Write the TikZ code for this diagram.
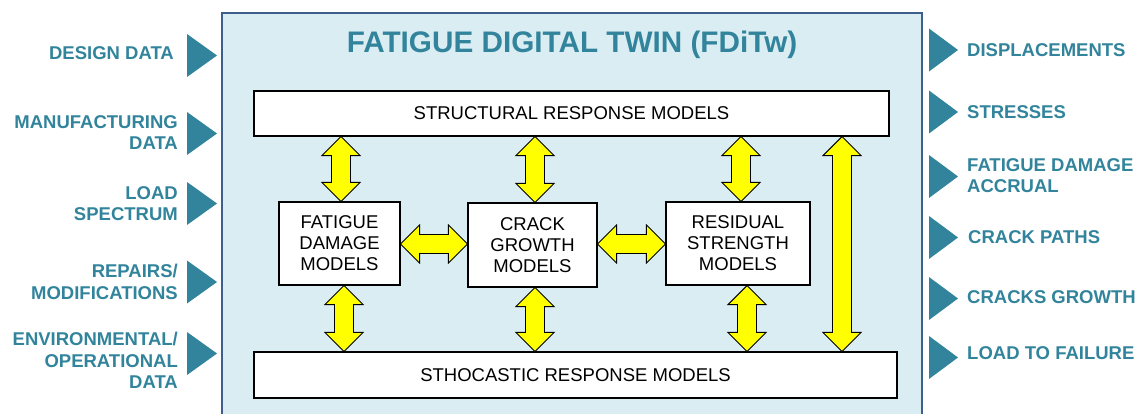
\documentclass[tikz,border=0pt]{standalone}
\usepackage{fontspec}
\setmainfont{Liberation Sans}
\usetikzlibrary{calc}

\definecolor{fdteal}{HTML}{31849B}
\definecolor{fdpanel}{HTML}{DAEDF3}
\definecolor{fdborder}{HTML}{3E5E8E}
\definecolor{fdyellow}{HTML}{FFFF00}

% yellow block arrow with a head at both ends, from #1 to #2
\newcommand{\fdarrow}[2]{%
  \draw[blockarrow] let \p1=#1, \p2=#2,
    \n1={atan2(\y2-\y1,\x2-\x1)},
    \n2={veclen(\x2-\x1,\y2-\y1)},
    \n3={\n2-19pt} in
    [shift={(\p1)}, rotate=\n1]
    (0pt,0pt) -- (19pt,19pt) -- (19pt,9.5pt) -- (\n3,9.5pt) -- (\n3,19pt)
    -- (\n2,0pt) -- (\n3,-19pt) -- (\n3,-9.5pt) -- (19pt,-9.5pt)
    -- (19pt,-19pt) -- cycle;}

\tikzset{
  panel/.style={draw=fdborder, line width=2pt, fill=fdpanel},
  title/.style={font=\bfseries\fontsize{29.7}{32}\selectfont, text=fdteal, inner sep=0pt},
  model/.style={draw=black, line width=1.2pt, fill=white, align=center,
    font=\fontsize{18.5}{21}\selectfont, inner sep=0pt},
  io/.style={font=\bfseries\fontsize{18.5}{21.5}\selectfont, text=fdteal, inner sep=0pt},
  tri/.style={fill=fdteal},
  blockarrow/.style={draw=black, line width=0.9pt, fill=fdyellow, line join=miter},
}

\begin{document}
\begin{tikzpicture}[x=1pt,y=-1pt]
\useasboundingbox (0,0) rectangle (1139,414);
\clip (0,0) rectangle (1139,414);

% central panel
\filldraw[panel] (222,13) rectangle (922,440);
\node[title] (title) at (572,44.5) {FATIGUE DIGITAL TWIN (FDiTw)};

% model boxes
\node[model, minimum width=635pt, minimum height=45pt] (st) at (571.5,113.5) {STRUCTURAL RESPONSE MODELS};
\node[model, minimum width=643pt, minimum height=46pt] (sc) at (575.5,375) {STHOCASTIC RESPONSE MODELS};
\node[model, minimum width=121pt, minimum height=83pt] (fd) at (339.5,243.5) {FATIGUE\\DAMAGE\\MODELS};
\node[model, minimum width=129pt, minimum height=84pt] (cg) at (532.5,245) {CRACK\\GROWTH\\MODELS};
\node[model, minimum width=144pt, minimum height=83pt] (rs) at (738,243.5) {RESIDUAL\\STRENGTH\\MODELS};

% arrow axes
\coordinate (a1) at (341,0);
\coordinate (a2) at (535,0);
\coordinate (a3) at (741,0);
\coordinate (b1) at (344,0);
\coordinate (b2) at (535,0);
\coordinate (b3) at (747,0);
\coordinate (tall) at (842,0);
\coordinate (h) at (0,244);

% links between the models
\fdarrow{(a1 |- st.south)}{(a1 |- fd.north)}
\fdarrow{(a2 |- st.south)}{(a2 |- cg.north)}
\fdarrow{(a3 |- st.south)}{(a3 |- rs.north)}
\fdarrow{(b1 |- fd.south)}{(b1 |- sc.north)}
\fdarrow{(b2 |- cg.south)}{(b2 |- sc.north)}
\fdarrow{(b3 |- rs.south)}{(b3 |- sc.north)}
\fdarrow{(tall |- st.south)}{(tall |- sc.north)}
\fdarrow{(fd.east |- h)}{(cg.west |- h)}
\fdarrow{(cg.east |- h)}{(rs.west |- h)}

% inputs
\node[io, anchor=east, align=right] (in1) at (174,53) {DESIGN DATA};
\node[io, anchor=east, align=right] (in2) at (178,132.5) {MANUFACTURING\\DATA};
\node[io, anchor=east, align=right] (in3) at (178,203.5) {LOAD\\SPECTRUM};
\node[io, anchor=east, align=right] (in4) at (178,282) {REPAIRS/\\MODIFICATIONS};
\node[io, anchor=east, align=right] (in5) at (178,360.5) {ENVIRONMENTAL/\\OPERATIONAL\\DATA};
\foreach \yc in {55.5,133.5,203.5,282,353.5}
  \fill[tri] (187,\yc-21.5) -- (217,\yc) -- (187,\yc+21.5) -- cycle;

% outputs
\foreach \yc in {50,112,176.5,237.5,298.5,357.5}
  \fill[tri] (929,\yc-21.5) -- (958,\yc) -- (929,\yc+21.5) -- cycle;
\node[io, anchor=west, align=left] (out1) at (967,50) {DISPLACEMENTS};
\node[io, anchor=west, align=left] (out2) at (967,112) {STRESSES};
\node[io, anchor=west, align=left] (out3) at (967,175.5) {FATIGUE DAMAGE\\ACCRUAL};
\node[io, anchor=west, align=left] (out4) at (968,237) {CRACK PATHS};
\node[io, anchor=west, align=left] (out5) at (967,297) {CRACKS GROWTH};
\node[io, anchor=west, align=left] (out6) at (967,353) {LOAD TO FAILURE};
\end{tikzpicture}
\end{document}
